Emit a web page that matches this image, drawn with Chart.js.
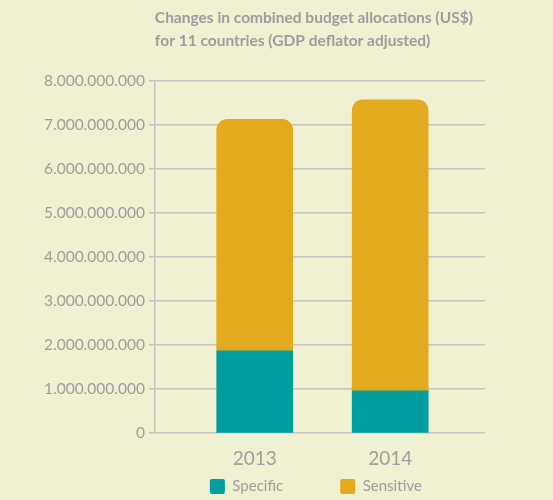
<!DOCTYPE html>
<html lang="en">
<head>
  <meta charset="UTF-8" />
  <title>Combined budget allocations</title>
  <script src="https://cdn.jsdelivr.net/npm/chart.js"></script>
  <style>
    html, body {
      margin: 0;
      padding: 0;
      background: #f0f0d2;
    }
    #wrap {
      width: 553px;
      height: 500px;
    }
  </style>
</head>
<body>
  <div id="wrap"><canvas id="budgetChart" width="553" height="500"></canvas></div>

  <script>
    const years = ['2013', '2014'];
    const specific = [1870000000, 960000000];
    const sensitive = [5250000000, 6600000000];
    const yTicks = [0, 1e9, 2e9, 3e9, 4e9, 5e9, 6e9, 7e9, 8e9];

    const grey = '#9d9d9d';
    const gridGrey = '#c4c4bc';

    function fmt(v) {
      return String(Math.round(v)).replace(/\B(?=(\d{3})+(?!\d))/g, '.');
    }

    // wide item spacing needs a big label padding, which also pushes the items down; lift them back
    const liftLegend = {
      id: 'liftLegend',
      afterLayout(chart) {
        const lg = chart.legend;
        if (!lg) return;
        const p = lg.options.labels.padding;
        lg.top -= p - 3;
        lg.bottom = lg.top + p + 40;
        lg.left -= 2;
        lg.right -= 2;
      }
    };

    const ctx = document.getElementById('budgetChart').getContext('2d');
    new Chart(ctx, {
      type: 'bar',
      data: {
        datasets: [
          {
            label: 'Specific',
            data: specific.map((v, i) => ({ x: i, y: v })),
            backgroundColor: '#009e9e',
            borderRadius: 0,
            barThickness: 76
          },
          {
            label: 'Sensitive',
            data: sensitive.map((v, i) => ({ x: i, y: v })),
            backgroundColor: '#e3a91f',
            borderRadius: { topLeft: 11, topRight: 11, bottomLeft: 0, bottomRight: 0 },
            borderSkipped: false,
            barThickness: 76
          }
        ]
      },
      options: {
        responsive: false,
        animation: false,
        layout: { padding: { left: 40, right: 68, top: 6, bottom: 8 } },
        plugins: {
          title: {
            display: true,
            text: ['Changes in combined budget allocations (US$)', 'for 11 countries (GDP deflator adjusted)'],
            align: 'start',
            fullSize: false,
            color: grey,
            font: { family: 'Lato', size: 15.5, weight: 'bold', lineHeight: 1.5 },
            padding: { top: 0, bottom: 28 }
          },
          legend: {
            position: 'bottom',
            align: 'start',
            fullSize: false,
            maxHeight: 16,
            labels: {
              color: grey,
              font: { family: 'Lato', size: 15 },
              boxWidth: 15,
              boxHeight: 15,
              padding: 57,
              useBorderRadius: true,
              borderRadius: 2
            }
          },
          tooltip: { enabled: false }
        },
        scales: {
          x: {
            type: 'linear',
            stacked: true,
            offset: false,
            min: -0.737,
            max: 1.7,
            grid: { display: false },
            border: { display: false },
            afterBuildTicks: axis => {
              axis.ticks = years.map((_, i) => ({ value: i }));
            },
            ticks: {
              color: grey,
              font: { family: 'Lato', size: 19 },
              padding: 6,
              maxRotation: 0,
              autoSkip: false,
              callback: v => years[v]
            }
          },
          y: {
            stacked: true,
            min: 0,
            max: 8e9,
            afterBuildTicks: axis => {
              axis.ticks = yTicks.map(v => ({ value: v }));
            },
            grid: { color: gridGrey, lineWidth: 1.5, tickLength: 6 },
            border: { display: true, color: gridGrey, width: 1.5 },
            ticks: {
              color: grey,
              font: { family: 'Lato', size: 15.5 },
              padding: 4,
              callback: v => fmt(v)
            }
          }
        }
      },
      plugins: [liftLegend]
    });
  </script>
</body>
</html>
